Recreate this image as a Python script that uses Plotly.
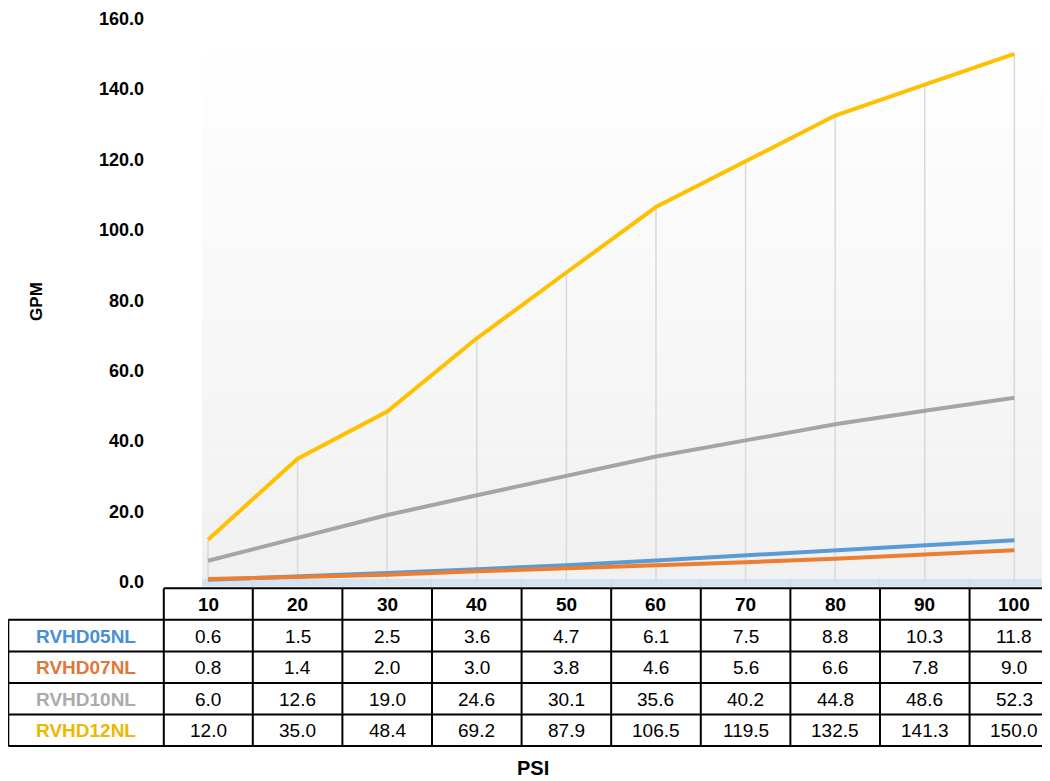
import plotly.graph_objects as go

psi = ["10", "20", "30", "40", "50", "60", "70", "80", "90", "100"]
series_names = ["RVHD05NL", "RVHD07NL", "RVHD10NL", "RVHD12NL"]
rvhd05 = [0.6, 1.5, 2.5, 3.6, 4.7, 6.1, 7.5, 8.8, 10.3, 11.8]
rvhd07 = [0.8, 1.4, 2.0, 3.0, 3.8, 4.6, 5.6, 6.6, 7.8, 9.0]
rvhd10 = [6.0, 12.6, 19.0, 24.6, 30.1, 35.6, 40.2, 44.8, 48.6, 52.3]
rvhd12 = [12.0, 35.0, 48.4, 69.2, 87.9, 106.5, 119.5, 132.5, 141.3, 150.0]
y_ticks = [0, 20, 40, 60, 80, 100, 120, 140, 160]

series_values = [rvhd05, rvhd07, rvhd10, rvhd12]
line_colors = ["#5B9BD5", "#ED7D31", "#A5A5A5", "#FFC000"]
text_colors = ["#4A8ED3", "#E0783A", "#ABABAB", "#EDB800"]

W, H = 1050, 781
OFF = 8  # page body margin offset

def py(px):
    return min(1.0, max(0.0, (H - (px - OFF)) / H))

def pxx(px):
    return (px - OFF) / W

FONT = "Liberation Sans, Arial, sans-serif"
TBL_FONT = 19

# y-axis geometry (reference pixels)
Y_ZERO_PX = 584.0
PX_PER_UNIT = 3.57
PLOT_TOP_PX = 9.0
PLOT_BOT_PX = 589.0
y_range = [-(PLOT_BOT_PX - Y_ZERO_PX) / PX_PER_UNIT, (Y_ZERO_PX - PLOT_TOP_PX) / PX_PER_UNIT]

fig = go.Figure()

# drop lines from the highest series down to the axis
top_vals = [max(v) for v in zip(*series_values)]
fig.add_trace(go.Scatter(
    x=psi, y=top_vals, mode="markers",
    marker=dict(size=1, opacity=0),
    error_y=dict(type="data", symmetric=False, array=[0] * len(psi),
                 arrayminus=top_vals, width=0, color="#D9D9D9", thickness=1.5),
    showlegend=False, hoverinfo="skip",
))

for name, vals, col in zip(series_names, series_values, line_colors):
    fig.add_trace(go.Scatter(
        x=psi, y=vals, mode="lines", name=name,
        line=dict(color=col, width=4), showlegend=False,
    ))

shapes = []
annotations = []

# gradient background bands
n_bands = 30
for i in range(n_bands):
    t = i / (n_bands - 1)
    c = int(round(241 + (255 - 241) * t))
    shapes.append(dict(type="rect", xref="x domain", yref="y domain",
                       x0=0, x1=1, y0=i / n_bands, y1=(i + 1) / n_bands,
                       fillcolor=f"rgb({c},{c},{c})", line=dict(width=0),
                       layer="below"))
# light blue floor band
shapes.append(dict(type="rect", xref="x domain", yref="y",
                   x0=0, x1=1, y0=y_range[0], y1=0.8,
                   fillcolor="#D5E3F1", line=dict(width=0), layer="below"))

# ---- data table (drawn with shapes + annotations) ----
TBL_TOP = 590.5        # reference pixel of header top border
ROW_H = 32.0
TBL_LEFT = 8.3
FIRST_RIGHT = 163.8
n_rows = len(series_names)
row_edges = [TBL_TOP + k * ROW_H for k in range(n_rows + 2)]
border = dict(color="black", width=2)

# horizontal borders
shapes.append(dict(type="line", xref="paper", yref="paper",
                   x0=pxx(FIRST_RIGHT), x1=1.0, y0=py(row_edges[0]), y1=py(row_edges[0]),
                   line=border))
for e in row_edges[1:]:
    shapes.append(dict(type="line", xref="paper", yref="paper",
                       x0=pxx(TBL_LEFT), x1=1.0, y0=py(e), y1=py(e), line=border))
# vertical borders
shapes.append(dict(type="line", xref="paper", yref="paper",
                   x0=pxx(TBL_LEFT), x1=pxx(TBL_LEFT),
                   y0=py(row_edges[1]), y1=py(row_edges[-1]), line=border))
shapes.append(dict(type="line", xref="paper", yref="paper",
                   x0=pxx(FIRST_RIGHT), x1=pxx(FIRST_RIGHT),
                   y0=py(row_edges[0]), y1=py(row_edges[-1]), line=border))
for i in range(len(psi) - 1):
    shapes.append(dict(type="line", xref="x", yref="paper",
                       x0=i + 0.5, x1=i + 0.5,
                       y0=py(row_edges[0]), y1=py(row_edges[-1]), line=border))

def row_center(k):
    return py((row_edges[k] + row_edges[k + 1]) / 2 + 0.5)

# header row (x given as category index on the category axis)
for ci, p in enumerate(psi):
    annotations.append(dict(text=f"<b>{p}</b>", xref="x", yref="paper",
                            x=ci, y=row_center(0), showarrow=False,
                            xanchor="center", yanchor="middle",
                            font=dict(family=FONT, size=TBL_FONT, color="black")))
# body rows
for r, (name, vals, tc) in enumerate(zip(series_names, series_values, text_colors)):
    annotations.append(dict(text=f"<b>{name}</b>", xref="paper", yref="paper",
                            x=pxx((TBL_LEFT + FIRST_RIGHT) / 2), y=row_center(r + 1),
                            showarrow=False, xanchor="center", yanchor="middle",
                            font=dict(family=FONT, size=TBL_FONT, color=tc)))
    for ci, v in enumerate(vals):
        annotations.append(dict(text=f"{v:.1f}", xref="x", yref="paper",
                                x=ci, y=row_center(r + 1), showarrow=False,
                                xanchor="center", yanchor="middle",
                                font=dict(family=FONT, size=TBL_FONT, color="black")))

annotations += [
    dict(text="<b>GPM</b>", xref="paper", yref="paper",
         x=pxx(37), y=py(300), textangle=-90, showarrow=False,
         xanchor="center", yanchor="middle",
         font=dict(family=FONT, size=17, color="black")),
    dict(text="<b>PSI</b>", xref="paper", yref="paper",
         x=pxx(533), y=py(773), showarrow=False,
         xanchor="center", yanchor="middle",
         font=dict(family=FONT, size=20, color="black")),
]

fig.update_layout(
    width=W, height=H,
    margin=dict(l=0, r=0, t=0, b=0),
    paper_bgcolor="white", plot_bgcolor="white",
    font=dict(family=FONT, size=18, color="black"),
    shapes=shapes,
    annotations=annotations,
    xaxis=dict(type="category", domain=[pxx(202), 1.0], range=[-0.067, 9.487],
               showgrid=False, zeroline=False, showline=False,
               showticklabels=False, ticks="inside", tickson="boundaries",
               ticklen=8, tickcolor="#D0D8E2"),
    yaxis=dict(domain=[py(PLOT_BOT_PX), py(PLOT_TOP_PX)], range=y_range,
               tickvals=y_ticks, ticktext=[f"<b>{v:.1f}</b>" for v in y_ticks],
               tickfont=dict(family=FONT, size=18, color="black"),
               showgrid=False, zeroline=False, showline=False,
               ticks="", ticklabelstandoff=57, ticklabeloverflow="allow"),
)

fig.write_html("out.html")
